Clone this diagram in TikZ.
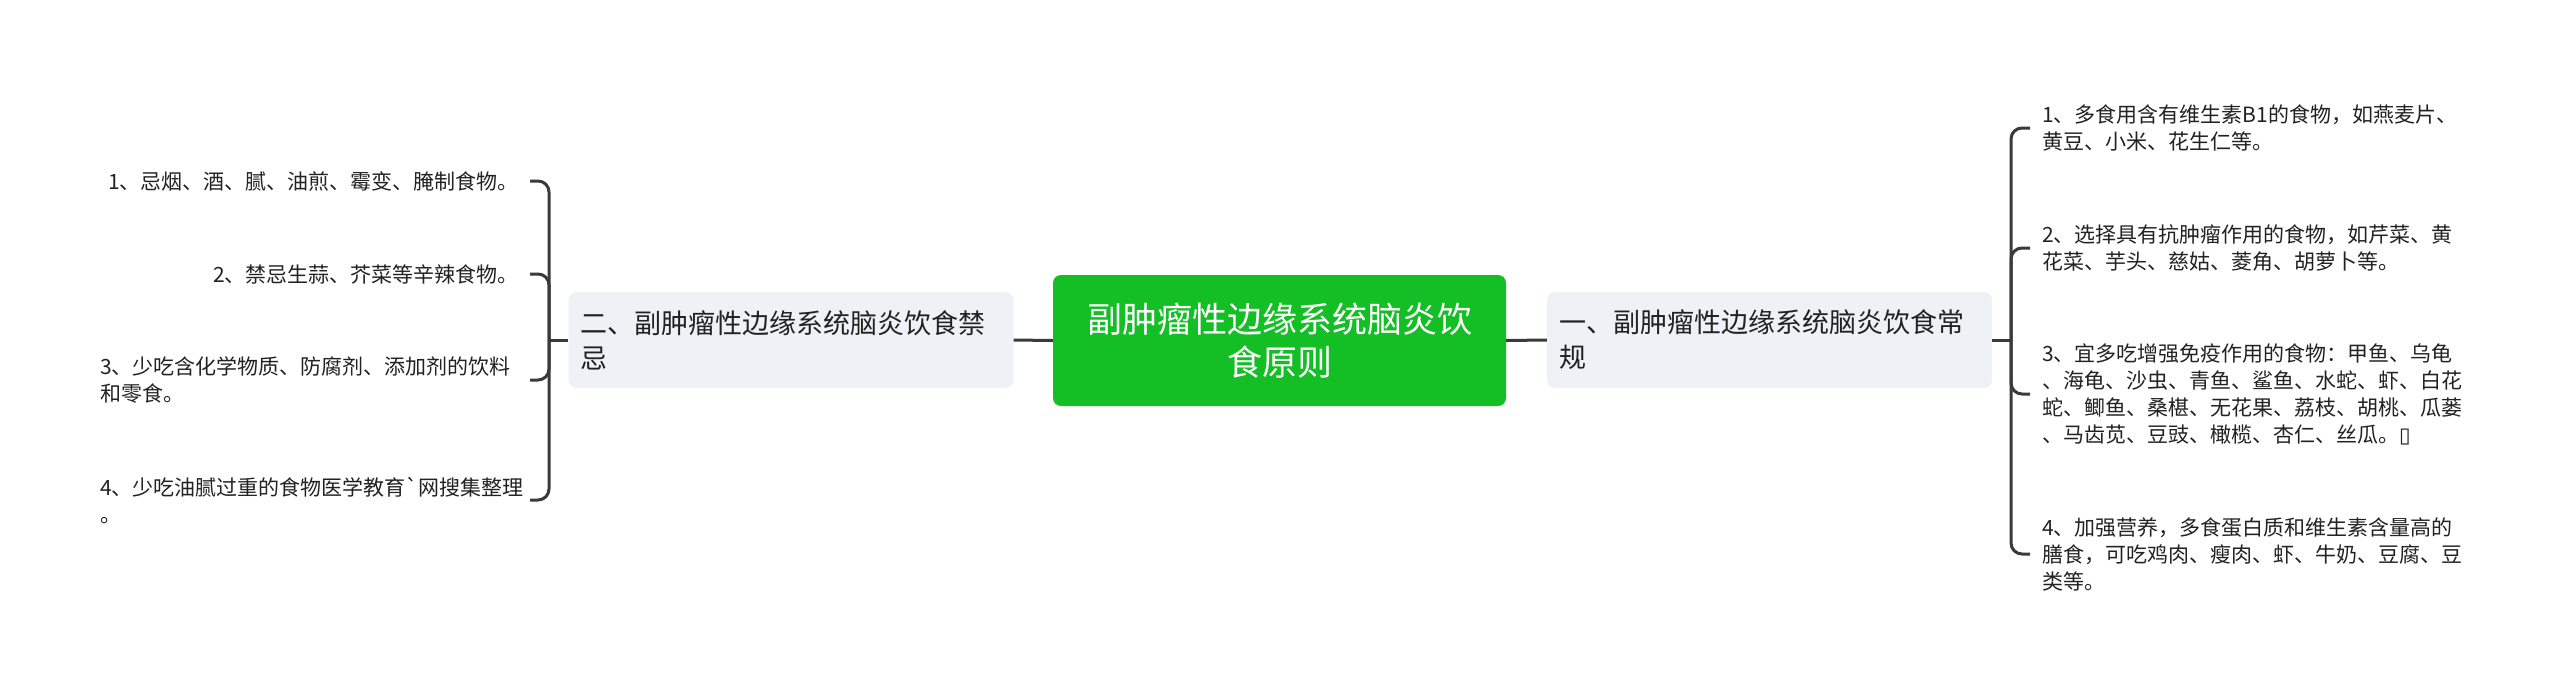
\documentclass[tikz,border=0pt]{standalone}
\usepackage{fontspec}
\newfontfamily\cjk{Noto Sans CJK SC}
\newfontfamily\djv{DejaVu Sans}
\definecolor{mmgreen}{RGB}{19,191,36}
\definecolor{mmgrey}{RGB}{238,241,245}
\definecolor{mmline}{RGB}{58,58,58}
\definecolor{mmtext}{RGB}{34,34,34}
\begin{document}
\begin{tikzpicture}[x=1pt,y=-1pt,
 conn/.style={draw=mmline,line width=3pt,rounded corners=11pt},
 root/.style={fill=mmgreen,rounded corners=8pt,minimum width=453pt,minimum height=131pt,text=white,align=center,font=\cjk\fontsize{35}{43}\selectfont,inner sep=0pt},
 branch/.style={fill=mmgrey,rounded corners=8pt,minimum width=445pt,minimum height=96pt,text width=421pt,align=left,inner xsep=12pt,inner ysep=0pt,text=mmtext,font=\cjk\fontsize{27}{35}\selectfont},
 leaf/.style={inner sep=0pt,align=left,text=mmtext,font=\cjk\fontsize{21}{27}\selectfont}]
\useasboundingbox[fill=white] (0,0) rectangle (2560,694);

\node[root] (root) at (1279.5,340.5) {副肿瘤性边缘系统脑炎饮\\食原则};
\node[branch] (rb) at (1769.5,340) {一、副肿瘤性边缘系统脑炎饮食常\\规};
\node[branch] (lb) at (791,340) {二、副肿瘤性边缘系统脑炎饮食禁\\忌};

\node[leaf,anchor=west] (R1) at (2042,128) {1、多食用含有维生素B1的食物，如燕麦片、\\黄豆、小米、花生仁等。};
\node[leaf,anchor=west] (R2) at (2042,248) {2、选择具有抗肿瘤作用的食物，如芹菜、黄\\花菜、芋头、慈姑、菱角、胡萝卜等。};
\node[leaf,anchor=west] (R3) at (2042,394) {3、宜多吃增强免疫作用的食物：甲鱼、乌龟\\、海龟、沙虫、青鱼、鲨鱼、水蛇、虾、白花\\蛇、鲫鱼、桑椹、无花果、荔枝、胡桃、瓜蒌\\、马齿苋、豆豉、橄榄、杏仁、丝瓜。{\djv ▯}};
\node[leaf,anchor=west] (R4) at (2042,554) {4、加强营养，多食蛋白质和维生素含量高的\\膳食，可吃鸡肉、瘦肉、虾、牛奶、豆腐、豆\\类等。};

\node[leaf,anchor=east] (L1) at (519,181) {1、忌烟、酒、腻、油煎、霉变、腌制食物。};
\node[leaf,anchor=east] (L2) at (519,274) {2、禁忌生蒜、芥菜等辛辣食物。};
\node[leaf,anchor=west] (L3) at (100,380) {3、少吃含化学物质、防腐剂、添加剂的饮料\\和零食。};
\node[leaf,anchor=west] (L4) at (100,500) {4、少吃油腻过重的食物医学教育\textasciigrave 网搜集整理\\。};

\coordinate (jl) at (549,340);
\coordinate (jr) at (2011,340);
\coordinate (le) at (530,0);
\coordinate (re) at (2030,0);

\draw[conn] (root.west) -- (lb.east);
\draw[conn] (root.east) -- (rb.west);
\draw[conn] (lb.west) -- (jl);
\draw[conn] (rb.east) -- (jr);
\foreach \n in {L1,L2,L3,L4} \draw[conn] (jl) |- (\n.east -| le);
\foreach \n in {R1,R2,R3,R4} \draw[conn] (jr) |- (\n.west -| re);
\end{tikzpicture}
\end{document}
